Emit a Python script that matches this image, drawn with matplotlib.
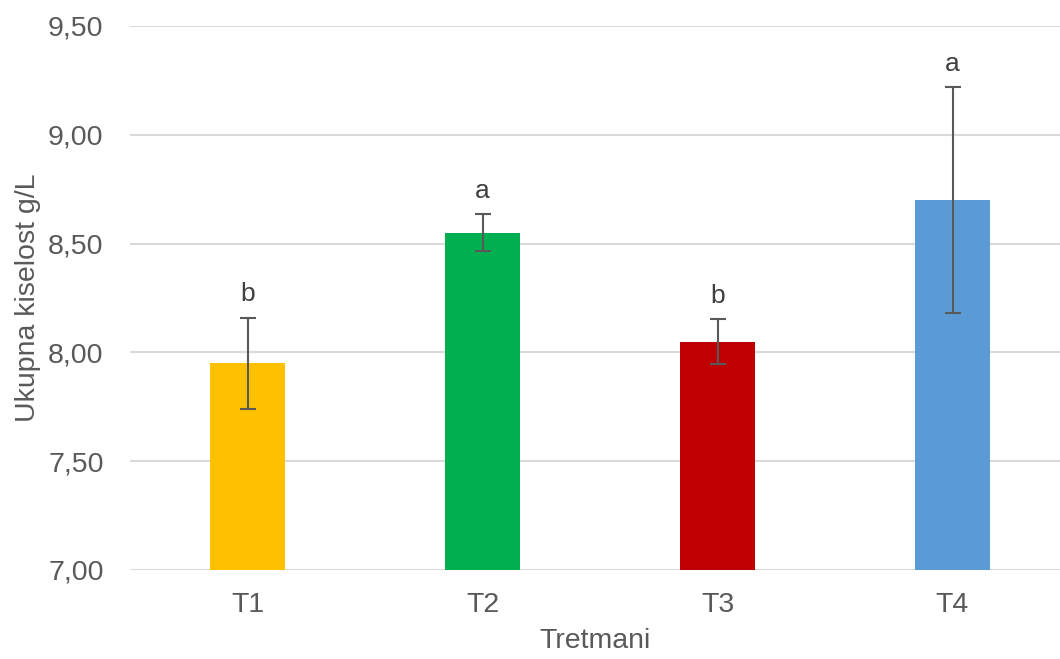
import matplotlib.pyplot as plt

plt.rcParams['font.family'] = ['Liberation Sans', 'DejaVu Sans']

tretmani = ["T1", "T2", "T3", "T4"]
kiselost = [7.95, 8.55, 8.05, 8.70]
greska = [0.21, 0.085, 0.105, 0.52]
slova = ["b", "a", "b", "a"]
boje = ["#FFC000", "#00B050", "#C00000", "#5B9BD5"]
y_ticks = [7.0, 7.5, 8.0, 8.5, 9.0, 9.5]

fig = plt.figure(figsize=(10.6, 6.59), dpi=100)
ax = fig.add_axes([130 / 1060, 1 - 570 / 659, 930 / 1060, 544 / 659])

x = list(range(len(tretmani)))
ax.bar(x, kiselost, width=0.315, color=boje, zorder=3)
ax.errorbar(x, kiselost, yerr=greska, fmt="none", ecolor="#595959",
            elinewidth=1.5, capsize=6, capthick=1.5, zorder=4)

for xi, v, e, s in zip(x, kiselost, greska, slova):
    ax.annotate(s, (xi, v + e), xytext=(0, 8), textcoords="offset points",
                ha="center", va="bottom", fontsize=19, color="#404040")

ax.set_ylim(7.0, 9.5)
ax.set_xlim(-0.5, 3.5 - 10 / 235)
ax.set_yticks(y_ticks)
ax.set_yticklabels([f"{t:.2f}".replace(".", ",") for t in y_ticks])
ax.set_xticks(x)
ax.set_xticklabels(tretmani)
ax.tick_params(axis="both", length=0, labelsize=20.5, labelcolor="#595959")
ax.tick_params(axis="y", pad=19)
ax.tick_params(axis="x", pad=16)

ax.yaxis.grid(True, color="#D9D9D9", linewidth=1.5, zorder=0)
for sp in ax.spines.values():
    sp.set_visible(False)

ax.set_xlabel("Tretmani", fontsize=20.5, color="#595959", labelpad=7)
ax.set_ylabel("Ukupna kiselost g/L", fontsize=20.5, color="#595959", labelpad=5)

fig.savefig("out.png", dpi=100)
